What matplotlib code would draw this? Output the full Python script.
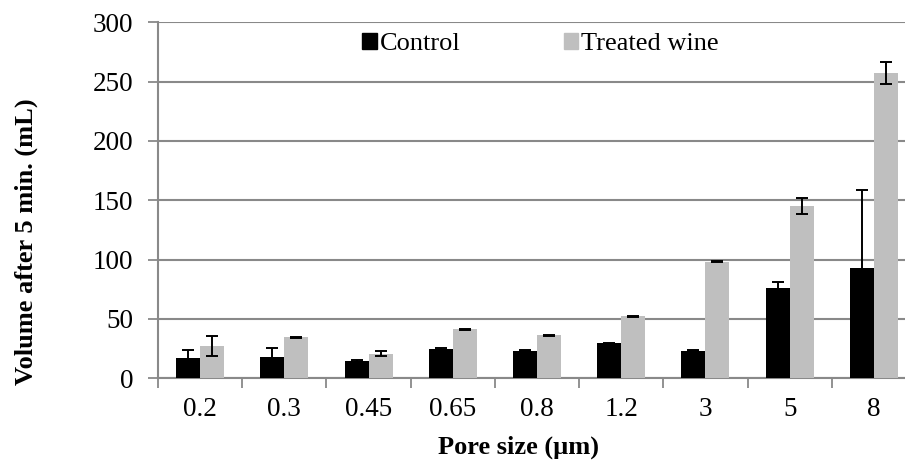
import numpy as np
import matplotlib.pyplot as plt
from matplotlib.patches import Patch

plt.rcParams['font.family'] = ['Liberation Serif', 'DejaVu Serif']

pore_sizes = ['0.2', '0.3', '0.45', '0.65', '0.8', '1.2', '3', '5', '8']
control = [16.8, 18.0, 14.0, 24.4, 23.0, 29.2, 23.0, 76.0, 92.5]
control_err = [7.0, 7.5, 1.2, 0.5, 0.5, 0.5, 0.5, 5.0, 66.5]
treated = [27.2, 34.3, 20.5, 41.0, 36.2, 52.0, 98.0, 145.0, 257.5]
treated_err = [8.5, 0.6, 2.0, 0.6, 0.5, 0.5, 0.5, 7.0, 9.0]

grey = '#898989'

fig = plt.figure(figsize=(9.05, 4.61), dpi=100)
ax = fig.add_axes([158 / 905, 83 / 461, 758 / 905, 355.5 / 461])

x = np.arange(len(pore_sizes))
w = 0.285
ax.bar(x - w / 2, control, w, color='black', zorder=3)
ax.bar(x + w / 2, treated, w, color='#bfbfbf', zorder=3)
ax.errorbar(x - w / 2, control, yerr=control_err, fmt='none', ecolor='black',
            elinewidth=1.4, capsize=4.5, capthick=1.4, zorder=4)
ax.errorbar(x + w / 2, treated, yerr=treated_err, fmt='none', ecolor='black',
            elinewidth=1.4, capsize=4.5, capthick=1.4, zorder=4)

ax.set_xlim(-0.5, len(pore_sizes) - 0.5)
ax.set_ylim(0, 300)
ax.set_yticks(range(0, 301, 50))
ax.yaxis.grid(True, color=grey, linewidth=1.5, zorder=0)
ax.set_axisbelow(True)

# group boundaries carry the ticks, labels sit in the middle
ax.set_xticks(np.arange(len(pore_sizes)) - 0.5)
ax.set_xticklabels([])
ax.set_xticks(x, minor=True)
ax.set_xticklabels(pore_sizes, minor=True)
ax.tick_params(axis='x', which='major', direction='out', length=7, width=1.3, color=grey)
ax.tick_params(axis='x', which='minor', length=0, pad=14, labelsize=19.5)
ax.tick_params(axis='y', direction='out', length=7, width=1.3, color=grey, labelsize=19.5, pad=11)

for s in ['top', 'right']:
    ax.spines[s].set_visible(False)
for s in ['left', 'bottom']:
    ax.spines[s].set_color(grey)
    ax.spines[s].set_linewidth(1.5)

ax.set_xlabel('Pore size (\u00b5m)', fontsize=19, fontweight='bold')
ax.set_ylabel('Volume after 5 min. (mL)', fontsize=19, fontweight='bold')
ax.xaxis.set_label_coords(0.476, -0.163)
ax.yaxis.set_label_coords(-0.158, 0.383)

handles = [Patch(color='black', label='Control'), Patch(color='#bfbfbf', label='Treated wine')]
ax.legend(handles=handles, loc='center', bbox_to_anchor=(0.505, 0.94), ncol=2,
          frameon=False, fontsize=19, handlelength=0.55, handleheight=0.55,
          handletextpad=0.12, columnspacing=3.9, borderpad=0)

fig.savefig('out.png', dpi=100)
